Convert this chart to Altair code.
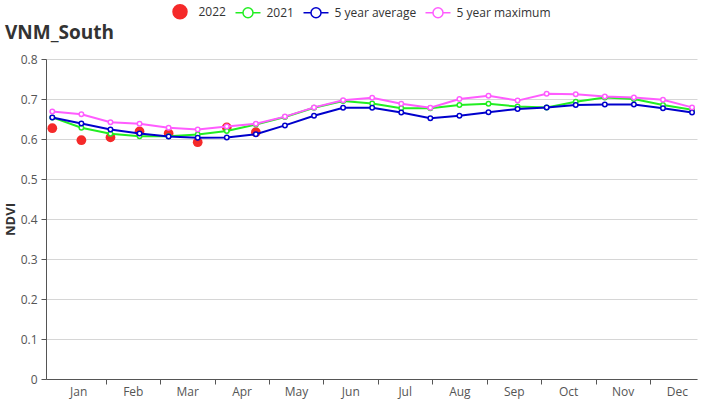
import json
import altair as alt
import pandas as pd

# ---- data ----
months = ["Jan", "Feb", "Mar", "Apr", "May", "Jun", "Jul", "Aug", "Sep", "Oct", "Nov", "Dec"]
month_starts = [-0.04, 1.84, 3.71, 5.58, 7.45, 9.32, 11.19, 13.07, 14.94, 16.81, 18.68, 20.55]
y_ticks = [0, 0.1, 0.2, 0.3, 0.4, 0.5, 0.6, 0.7, 0.8]

series_names = ["2022", "2021", "5 year average", "5 year maximum"]
series_colors = ["#f52a2a", "#22ee22", "#0000cc", "#ff5cff"]

ndvi_2022 = [0.627, 0.597, 0.604, 0.619, 0.614, 0.592, 0.629, 0.617]
ndvi_2021 = [0.654, 0.628, 0.613, 0.607, 0.607, 0.611, 0.620, 0.636, 0.655, 0.678, 0.695, 0.689,
             0.677, 0.677, 0.685, 0.688, 0.681, 0.679, 0.693, 0.704, 0.700, 0.685, 0.673]
avg_5yr = [0.654, 0.639, 0.624, 0.614, 0.606, 0.603, 0.604, 0.612, 0.634, 0.658, 0.678, 0.678,
           0.666, 0.652, 0.658, 0.667, 0.675, 0.679, 0.685, 0.686, 0.686, 0.677, 0.666]
max_5yr = [0.669, 0.662, 0.642, 0.638, 0.628, 0.624, 0.631, 0.638, 0.656, 0.679, 0.697, 0.703,
           0.688, 0.678, 0.700, 0.708, 0.696, 0.713, 0.712, 0.706, 0.704, 0.698, 0.679]

FONT = "Open Sans"


def frame(name, vals):
    return pd.DataFrame({"period": list(range(len(vals))), "ndvi": vals, "series": name})


xscale = alt.Scale(domain=[-0.217, 22.17], nice=False, zero=False)
yscale = alt.Scale(domain=[0, 0.8], nice=False, zero=True)

label_expr = json.dumps(months).replace('"', "'") + "[round((datum.value + 0.04) / 1.87)]"

x_axis = alt.Axis(
    values=month_starts, labelExpr=label_expr, labelOffset=27, labelAlign="center",
    labelBaseline="middle",
    tickSize=5, tickOpacity={"condition": {"test": "datum.value < 0", "value": 0}, "value": 1},
    grid=False, title=None, labelOverlap=False, labelFlush=False, labelPadding=7,
    domainColor="#555", tickColor="#555", labelColor="#555", labelFontSize=12, labelFont=FONT,
)
y_axis = alt.Axis(
    values=y_ticks, format="~g", title="NDVI", titleFontWeight="bold", titleFontSize=13,
    titleFont=FONT, titleColor="#333", titlePadding=3, grid=True, gridColor="#d6d6d6",
    tickSize=5, domainColor="#555", tickColor="#555", labelColor="#555", labelFontSize=12,
    labelFont=FONT, labelPadding=4,
)

X = alt.X("period:Q", scale=xscale, axis=x_axis)
Y = alt.Y("ndvi:Q", scale=yscale, axis=y_axis)

layers = []
layers.append(
    alt.Chart(frame("2022", ndvi_2022)).mark_circle(size=95, opacity=1, color=series_colors[0]).encode(x=X, y=Y)
)
for name, vals, col in [("2021", ndvi_2021, series_colors[1]),
                        ("5 year average", avg_5yr, series_colors[2]),
                        ("5 year maximum", max_5yr, series_colors[3])]:
    df = frame(name, vals)
    layers.append(alt.Chart(df).mark_line(strokeWidth=2, color=col).encode(x=X, y=Y))
    layers.append(
        alt.Chart(df).mark_point(shape="circle", size=20, filled=True, fill="white", stroke=col,
                                 strokeWidth=1.5, opacity=1).encode(x=X, y=Y)
    )

# legend-only layer (no rows; the legend comes from the explicit scale domains)
circle_path = "M0.56,0A0.56,0.56 0 1 1 -0.56,0A0.56,0.56 0 1 1 0.56,0Z"
line_circle_path = ("M-1,0H-0.4M0.4,0H1M0.4,0A0.4,0.4 0 1 1 -0.4,0A0.4,0.4 0 1 1 0.4,0Z")
legend = alt.Legend(
    orient="none", legendX=120.5, legendY=-61, direction="horizontal", title=None,
    symbolSize=625, symbolStrokeWidth=1.5, labelFontSize=12, labelFont=FONT,
    labelColor="#333", labelOffset=5, columnPadding=6, padding=0,
)
empty = pd.DataFrame({"period": pd.Series([], dtype=float), "ndvi": pd.Series([], dtype=float),
                      "series": pd.Series([], dtype=str)})
layers.append(
    alt.Chart(empty).mark_point(filled=True, opacity=1, strokeWidth=1.5).encode(
        x=X, y=Y,
        stroke=alt.Stroke("series:N", scale=alt.Scale(domain=series_names, range=series_colors), legend=legend),
        fill=alt.Fill("series:N", scale=alt.Scale(domain=series_names,
                                                   range=[series_colors[0], "white", "white", "white"]), legend=legend),
        shape=alt.Shape("series:N", scale=alt.Scale(domain=series_names,
                                                     range=[circle_path] + [line_circle_path] * 3), legend=legend),
    )
)

chart = alt.layer(*layers).properties(
    width=651, height=320,
    padding={"left": 46, "top": 59, "right": 29, "bottom": 21},
    autosize=alt.AutoSizeParams(type="none"),
    title=alt.TitleParams("VNM_South", anchor="start", frame="group", dx=-41, dy=64, offset=0,
                          baseline="bottom",
                          fontSize=19, font=FONT, fontWeight="bold", color="#333"),
).configure_view(stroke=None)

chart.save("out.html", embed_options={"renderer": "svg", "actions": False})
